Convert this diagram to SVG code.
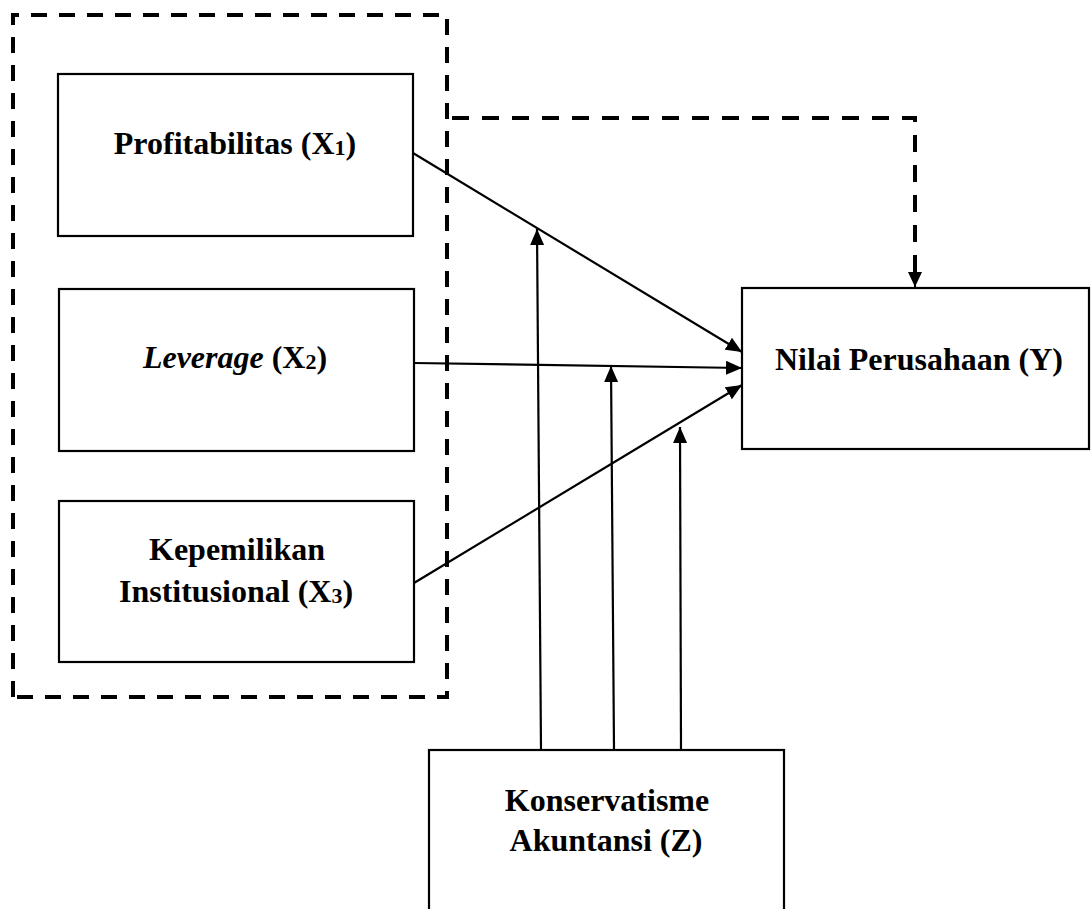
<svg xmlns="http://www.w3.org/2000/svg" width="1091" height="909" viewBox="0 0 1091 909">
  <style>
    .box { fill: #ffffff; stroke: #000000; stroke-width: 2.2; }
    .lbl { font-family: "Liberation Serif", "Times New Roman", serif; font-weight: bold; font-size: 32px; fill: #000000; text-anchor: middle; }
    .sub { font-size: 22px; }
    .conn { stroke: #000000; stroke-width: 2.2; fill: none; marker-end: url(#ah); }
    .dash { stroke: #000000; stroke-width: 4; fill: none; stroke-dasharray: 16 12; }
  </style>
  <defs>
    <marker id="ah" markerWidth="16" markerHeight="14" refX="16" refY="7" orient="auto" markerUnits="userSpaceOnUse">
      <path d="M0,0 L16,7 L0,14 Z" fill="#000000"/>
    </marker>
    <marker id="ah2" markerWidth="15" markerHeight="14" refX="15" refY="7" orient="auto" markerUnits="userSpaceOnUse">
      <path d="M0,0 L15,7 L0,14 Z" fill="#000000"/>
    </marker>
  </defs>
  <rect x="0" y="0" width="1091" height="909" fill="#ffffff"/>

  <g id="group-x">
    <path class="dash" d="M13,697 V15 H447 V697 Z"/>
  </g>

  <g id="node-x1">
    <rect class="box" x="58" y="74" width="355" height="162"/>
    <text class="lbl" x="235" y="154">Profitabilitas (X<tspan class="sub" dy="1">1</tspan><tspan dy="-1">)</tspan></text>
  </g>

  <g id="node-x2">
    <rect class="box" x="59" y="289" width="355" height="162"/>
    <text class="lbl" x="235" y="368"><tspan font-style="italic">Leverage</tspan> (X<tspan class="sub" dy="1">2</tspan><tspan dy="-1">)</tspan></text>
  </g>

  <g id="node-x3">
    <rect class="box" x="59" y="501" width="355" height="161"/>
    <text class="lbl" x="237" y="560">Kepemilikan</text>
    <text class="lbl" x="236" y="602">Institusional (X<tspan class="sub" dy="1">3</tspan><tspan dy="-1">)</tspan></text>
  </g>

  <g id="node-y">
    <rect class="box" x="742" y="288" width="347" height="161"/>
    <text class="lbl" x="919" y="370">Nilai Perusahaan (Y)</text>
  </g>

  <g id="node-z">
    <rect class="box" x="429" y="750" width="355" height="180"/>
    <text class="lbl" x="607" y="811">Konservatisme</text>
    <text class="lbl" x="606" y="851">Akuntansi (Z)</text>
  </g>

  <g id="connectors">
    <line class="conn" x1="413" y1="153" x2="742" y2="352"/>
    <line class="conn" x1="414" y1="363" x2="742" y2="368"/>
    <line class="conn" x1="414" y1="583" x2="742" y2="385"/>
    <line class="conn" x1="541" y1="750" x2="537" y2="229"/>
    <line class="conn" x1="614" y1="750" x2="611" y2="366"/>
    <line class="conn" x1="681" y1="750" x2="680" y2="427"/>
    <path d="M452,118 H915 V272" stroke="#000000" stroke-width="4" fill="none" stroke-dasharray="17 13"/>
    <line x1="915" y1="266" x2="915" y2="287" stroke="#000000" stroke-width="2" marker-end="url(#ah2)"/>
  </g>
</svg>
